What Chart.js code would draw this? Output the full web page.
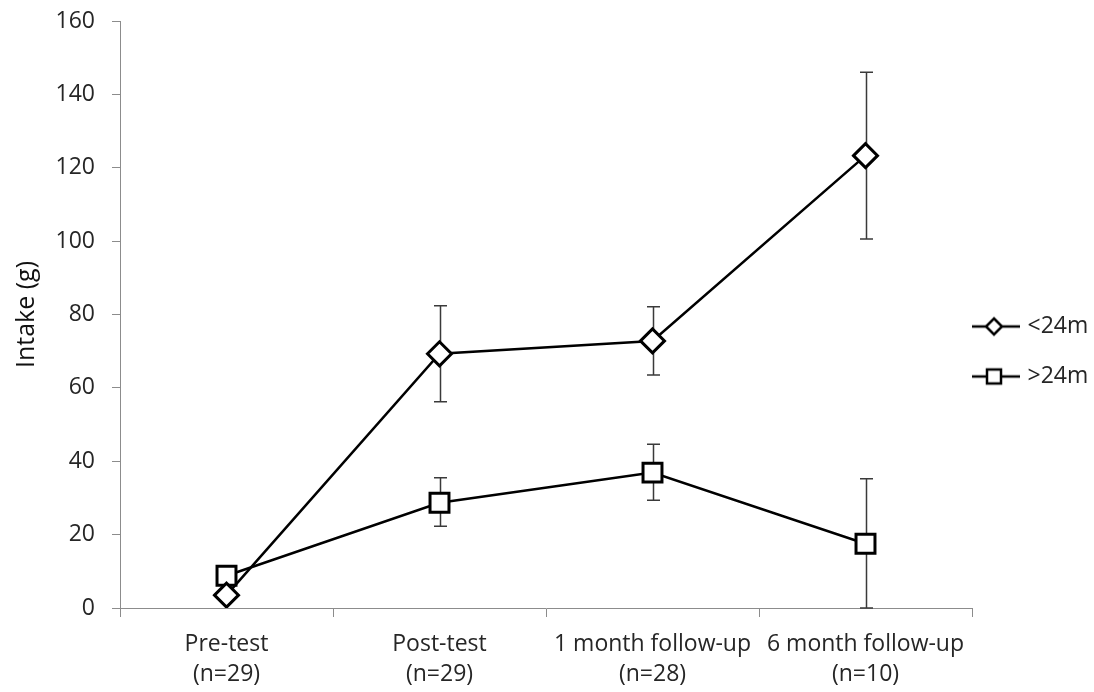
<!DOCTYPE html>
<html>
<head>
<meta charset="utf-8">
<title>Intake by follow-up</title>
<script src="https://cdn.jsdelivr.net/npm/chart.js@4.4.1/dist/chart.umd.min.js"></script>
<style>
  html, body { margin: 0; padding: 0; background: #ffffff; }
  canvas { display: block; }
</style>
</head>
<body>
<canvas id="c" width="1094" height="692"></canvas>
<script>
// Time points (two-line axis labels)
const categories = [
  ['Pre-test', '(n=29)'],
  ['Post-test', '(n=29)'],
  ['1 month follow-up', '(n=28)'],
  ['6 month follow-up', '(n=10)']
];

// Mean intake (g) per group
const under24 = [3.5, 69.3, 72.8, 123.3];
const over24 = [8.8, 28.7, 36.9, 17.5];

// Error bar bounds (g); null = no bar
const under24High = [null, 82.4, 82.1, 146.0];
const under24Low = [null, 56.2, 63.5, 100.6];
const over24High = [null, 35.5, 44.6, 35.2];
const over24Low = [null, 22.3, 29.4, 0];

const seriesNames = ['<24m', '>24m'];

const FONT = 'Open Sans';
const AXIS_GREY = '#8c8c8c';
const TEXT = '#262626';

// Small line-and-marker icons for the legend
function legendIcon(shape) {
  const c = document.createElement('canvas');
  c.width = 54; c.height = 22;
  const g = c.getContext('2d');
  g.strokeStyle = '#000'; g.lineWidth = 2.5;
  g.beginPath(); g.moveTo(1, 11); g.lineTo(53, 11); g.stroke();
  g.fillStyle = '#fff';
  g.lineWidth = 2.5;
  g.beginPath();
  if (shape === 'diamond') {
    g.moveTo(27, 3); g.lineTo(35, 11); g.lineTo(27, 19); g.lineTo(19, 11); g.closePath();
  } else {
    g.rect(20, 4, 14, 14);
  }
  g.fill(); g.stroke();
  return c;
}
const icons = [legendIcon('diamond'), legendIcon('square')];

// Vertical error bars with caps, drawn behind the markers
const errorBars = {
  id: 'errorBars',
  beforeDatasetsDraw(chart, args, opts) {
    const ctx = chart.ctx;
    const xs = chart.scales.x, ys = chart.scales.y;
    ctx.save();
    ctx.strokeStyle = opts.color;
    ctx.lineWidth = opts.width;
    chart.data.datasets.forEach(ds => {
      ds.errHigh.forEach((hi, i) => {
        const lo = ds.errLow[i];
        if (hi === null || lo === null) return;
        const x = Math.round(xs.getPixelForValue(i)) + 0.5;
        const yt = ys.getPixelForValue(hi);
        const yb = ys.getPixelForValue(lo);
        ctx.beginPath();
        ctx.moveTo(x, yt); ctx.lineTo(x, yb);
        ctx.moveTo(x - opts.cap, yt); ctx.lineTo(x + opts.cap, yt);
        ctx.moveTo(x - opts.cap, yb); ctx.lineTo(x + opts.cap, yb);
        ctx.stroke();
      });
    });
    ctx.restore();
  }
};

const chart = new Chart(document.getElementById('c'), {
  type: 'line',
  data: {
    labels: categories,
    datasets: [
      {
        label: seriesNames[0],
        data: under24,
        errHigh: under24High,
        errLow: under24Low,
        borderColor: '#000',
        borderWidth: 2.5,
        pointStyle: 'rectRot',
        pointRadius: 12,
        pointBorderWidth: 3,
        pointBackgroundColor: '#fff',
        pointBorderColor: '#000',
        tension: 0
      },
      {
        label: seriesNames[1],
        data: over24,
        errHigh: over24High,
        errLow: over24Low,
        borderColor: '#000',
        borderWidth: 2.5,
        pointStyle: 'rect',
        pointRadius: 13.4,
        pointBorderWidth: 3,
        pointBackgroundColor: '#fff',
        pointBorderColor: '#000',
        tension: 0
      }
    ]
  },
  options: {
    responsive: false,
    animation: false,
    devicePixelRatio: 1,
    layout: { padding: { left: 0, top: 21, right: 0, bottom: 0 } },
    scales: {
      x: {
        type: 'category',
        offset: true,
        grid: { offset: true, drawOnChartArea: false, tickLength: 9, color: AXIS_GREY, lineWidth: 1 },
        border: { color: AXIS_GREY, width: 1 },
        ticks: {
          color: TEXT,
          font: { family: FONT, size: 23, lineHeight: 1.3 },
          padding: 13,
          maxRotation: 0,
          autoSkip: false
        },
        afterFit(scale) { scale.height = 84; }
      },
      y: {
        min: 0,
        max: 160,
        grid: { drawOnChartArea: false, tickLength: 8, color: AXIS_GREY, lineWidth: 1 },
        border: { color: AXIS_GREY, width: 1 },
        ticks: {
          stepSize: 20,
          color: TEXT,
          font: { family: FONT, size: 23 },
          padding: 17
        },
        title: {
          display: true,
          text: 'Intake (g)',
          color: '#111',
          font: { family: FONT, size: 25 },
          padding: { top: 12, bottom: 4 }
        },
        afterFit(scale) {
          scale.width = 120;
          scale.paddingTop = 0;
          scale.paddingBottom = 0;
        }
      }
    },
    plugins: {
      legend: {
        position: 'right',
        align: 'center',
        maxWidth: 122,
        title: { display: true, text: ' ', font: { size: 10, lineHeight: '17px' }, padding: 0 },
        labels: {
          usePointStyle: true,
          pointStyleWidth: 44,
          padding: 0,
          color: TEXT,
          font: { family: FONT, size: 23, lineHeight: '50px' },
          generateLabels(ch) {
            return ch.data.datasets.map((ds, i) => ({
              text: [ds.label],
              pointStyle: icons[i],
              fillStyle: '#fff',
              strokeStyle: '#000',
              lineWidth: 0,
              fontColor: TEXT,
              hidden: false,
              datasetIndex: i
            }));
          }
        }
      },
      tooltip: { enabled: false },
      errorBars: { color: '#3a3a3a', width: 1.5, cap: 6.5 }
    }
  },
  plugins: [errorBars]
});
</script>
</body>
</html>
